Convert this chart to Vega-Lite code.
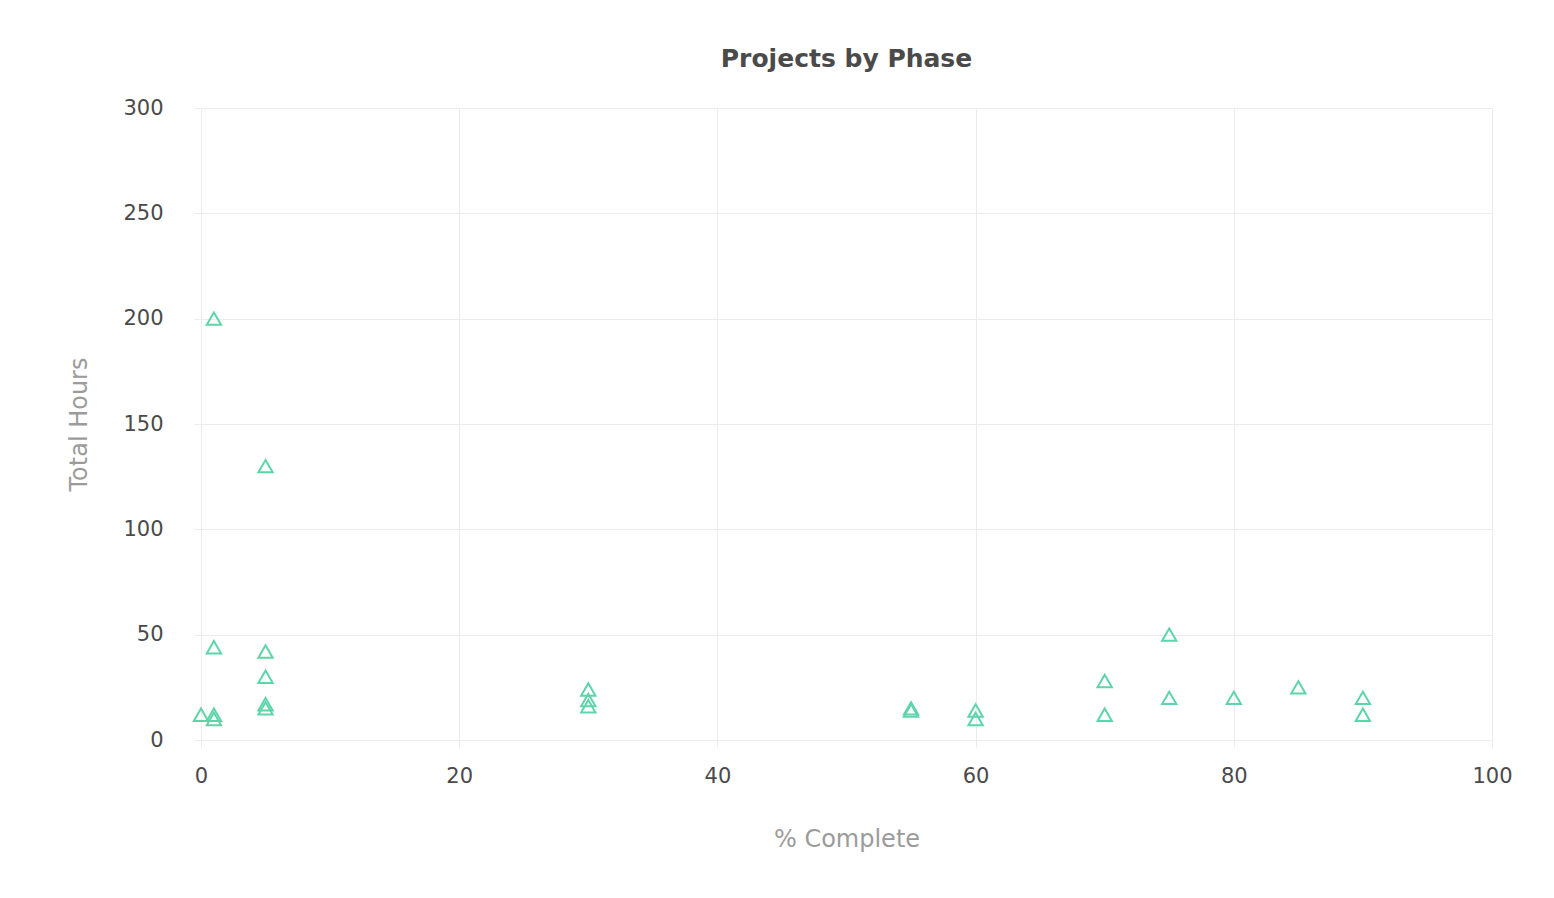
{
  "$schema": "https://vega.github.io/schema/vega-lite/v6.json",
  "autosize": {"type": "none"},
  "padding": {"left": 201, "top": 108, "right": 62, "bottom": 158},
  "width": 1291,
  "height": 632,
  "background": "#ffffff",
  "title": {
    "text": "Projects by Phase",
    "font": "DejaVu Sans",
    "fontSize": 25,
    "fontWeight": "bold",
    "color": "#4a4a4a",
    "anchor": "middle",
    "offset": 25
  },
  "data": {
    "values": [
      {"pct": 0, "hours": 12},
      {"pct": 1, "hours": 200},
      {"pct": 1, "hours": 44},
      {"pct": 1, "hours": 12},
      {"pct": 1, "hours": 10},
      {"pct": 5, "hours": 130},
      {"pct": 5, "hours": 42},
      {"pct": 5, "hours": 30},
      {"pct": 5, "hours": 17},
      {"pct": 5, "hours": 15},
      {"pct": 30, "hours": 24},
      {"pct": 30, "hours": 19},
      {"pct": 30, "hours": 16},
      {"pct": 55, "hours": 15},
      {"pct": 55, "hours": 14},
      {"pct": 60, "hours": 14},
      {"pct": 60, "hours": 10},
      {"pct": 70, "hours": 28},
      {"pct": 70, "hours": 12},
      {"pct": 75, "hours": 50},
      {"pct": 75, "hours": 20},
      {"pct": 80, "hours": 20},
      {"pct": 85, "hours": 25},
      {"pct": 90, "hours": 20},
      {"pct": 90, "hours": 12}
    ]
  },
  "mark": {
    "type": "point",
    "shape": "triangle-up",
    "filled": false,
    "size": 205,
    "strokeWidth": 2,
    "color": "#5dd5a9",
    "opacity": 1
  },
  "encoding": {
    "x": {
      "field": "pct",
      "type": "quantitative",
      "title": "% Complete",
      "scale": {"domain": [0, 100], "nice": false},
      "axis": {
        "values": [0, 20, 40, 60, 80, 100],
        "labelFlush": false,
        "labelPadding": 18,
        "titlePadding": 41
      }
    },
    "y": {
      "field": "hours",
      "type": "quantitative",
      "title": "Total Hours",
      "scale": {"domain": [0, 300], "nice": false},
      "axis": {
        "values": [0, 50, 100, 150, 200, 250, 300],
        "labelPadding": 31,
        "titlePadding": 31
      }
    }
  },
  "config": {
    "font": "DejaVu Sans",
    "view": {"stroke": null},
    "axis": {
      "domain": false,
      "grid": true,
      "gridColor": "#ececec",
      "gridWidth": 1,
      "tickColor": "#ececec",
      "tickSize": 7,
      "labelFont": "DejaVu Sans",
      "labelFontSize": 21,
      "labelColor": "#4a4a4a",
      "titleFont": "DejaVu Sans",
      "titleFontSize": 24,
      "titleFontWeight": "normal",
      "titleColor": "#9b9b9b"
    }
  }
}
